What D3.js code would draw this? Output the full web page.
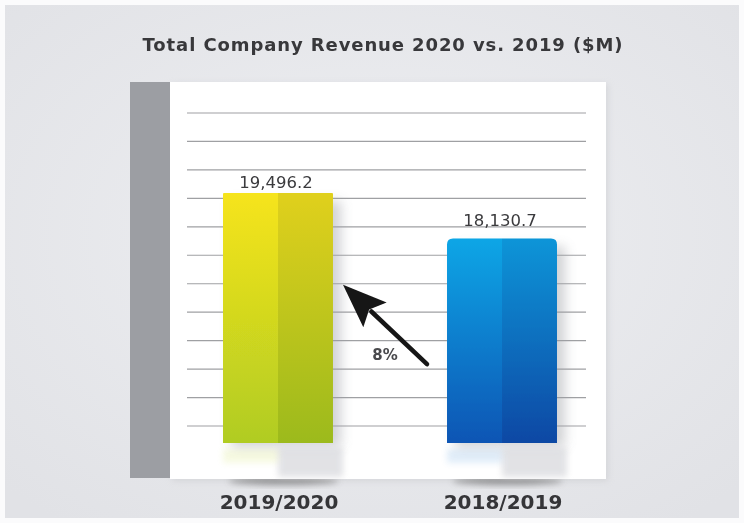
<!DOCTYPE html>
<html>
<head>
<meta charset="utf-8">
<script src="https://cdn.jsdelivr.net/npm/d3@7/dist/d3.min.js"></script>
<style>
  html, body { margin: 0; padding: 0; background: #ffffff; }
  svg { display: block; }
</style>
</head>
<body>
<svg id="chart" width="744" height="523"></svg>
<script>
// Revenue by fiscal year, $M
const categories = ["2019/2020", "2018/2019"];
const revenue = [19496.2, 18130.7];
const valueLabels = ["19,496.2", "18,130.7"];
const changeLabel = "8%";
const titleText = "Total Company Revenue 2020 vs. 2019 ($M)";
const gridLineCount = 12;

const svg = d3.select("#chart");
const W = 744, H = 523;
const defs = svg.append("defs");

// background
const bg = defs.append("radialGradient").attr("id", "bg").attr("cx", "50%").attr("cy", "45%").attr("r", "70%");
bg.append("stop").attr("offset", "0%").attr("stop-color", "#eeeff2");
bg.append("stop").attr("offset", "100%").attr("stop-color", "#e1e2e6");
svg.append("rect").attr("width", W).attr("height", H).attr("fill", "#fbfbfc");
svg.append("rect").attr("x", 5).attr("y", 5).attr("width", W - 10).attr("height", H - 10).attr("fill", "url(#bg)");

// filters
const blur = (id, sd) => defs.append("filter").attr("id", id)
  .attr("x", "-50%").attr("y", "-50%").attr("width", "200%").attr("height", "200%")
  .append("feGaussianBlur").attr("stdDeviation", sd);
blur("soft", 3);
blur("softer", 6);
blur("tiny", 0.6);

// bar gradients
function vGrad(id, c0, c1) {
  const g = defs.append("linearGradient").attr("id", id).attr("x1", 0).attr("y1", 0).attr("x2", 0).attr("y2", 1);
  g.append("stop").attr("offset", "0%").attr("stop-color", c0);
  g.append("stop").attr("offset", "100%").attr("stop-color", c1);
}
vGrad("yL", "#f6e41c", "#b0cc22");
vGrad("yR", "#e0d01e", "#9cba1e");
vGrad("bL", "#0aa6e6", "#0a55b4");
vGrad("bR", "#0895d8", "#0848a4");
const fillsL = ["url(#yL)", "url(#bL)"];
const fillsR = ["url(#yR)", "url(#bR)"];
const reflect = ["#c8dc3c", "#3a8ad8"];

// layout
const panel = { x0: 170, x1: 606, y0: 82, y1: 479 };
const base = 443;
const labelGap = [5, 13];

const x = d3.scaleBand().domain(categories).range([167, 613]).paddingInner(0.509).paddingOuter(0.25);
const y = d3.scaleLinear().domain([12000, 20000]).range([base, base - 8000 * 250 / 7496.2]);
const gridY = d3.scaleLinear().domain([0, gridLineCount - 1]).range([113, 426]);

// panel drop shadow and the curled shadows at its bottom edge
svg.append("rect").attr("x", panel.x0 + 2).attr("y", panel.y0 + 2).attr("width", panel.x1 - panel.x0).attr("height", panel.y1 - panel.y0)
  .attr("fill", "#c9cace").attr("filter", "url(#soft)").attr("opacity", 0.6);
categories.forEach((c, i) => {
  svg.append("ellipse").attr("cx", x(c) + x.bandwidth() * 0.55).attr("cy", panel.y1 + 2)
    .attr("rx", x.bandwidth() * 0.5).attr("ry", 4).attr("fill", "#555").attr("opacity", 0.55).attr("filter", "url(#soft)");
});

// white panel
svg.append("rect").attr("x", panel.x0).attr("y", panel.y0).attr("width", panel.x1 - panel.x0).attr("height", panel.y1 - panel.y0).attr("fill", "#ffffff");

// grey side bar
svg.append("rect").attr("x", 130).attr("y", panel.y0).attr("width", 40).attr("height", panel.y1 - panel.y0 - 1).attr("fill", "#9c9ea3");

// grid lines
svg.append("g").selectAll("line").data(d3.range(gridLineCount)).join("line")
  .attr("x1", 187).attr("x2", 586)
  .attr("y1", d => gridY(d)).attr("y2", d => gridY(d))
  .attr("stroke", "#8f9093").attr("stroke-width", 1.2).attr("opacity", 0.85);

// bar shadows and reflections
categories.forEach((c, i) => {
  const bx = x(c), bw = x.bandwidth();
  svg.append("rect").attr("x", bx + 8).attr("y", y(revenue[i]) + 8).attr("width", bw).attr("height", base - y(revenue[i]) - 4)
    .attr("fill", "#9a9ca2").attr("opacity", 0.45).attr("filter", "url(#softer)");
  svg.append("rect").attr("x", bx + bw / 2).attr("y", base + 4).attr("width", bw / 2 + 10).attr("height", panel.y1 - base - 6)
    .attr("fill", "#d6d7db").attr("opacity", 0.7).attr("filter", "url(#soft)");
  svg.append("rect").attr("x", bx).attr("y", base + 6).attr("width", bw / 2).attr("height", 14)
    .attr("fill", reflect[i]).attr("opacity", 0.15).attr("filter", "url(#soft)");
});

// bars: two-tone folded faces
const bars = svg.append("g");
categories.forEach((c, i) => {
  const bx = x(c), bw = x.bandwidth(), top = y(revenue[i]);
  const g = bars.append("g").attr("filter", "url(#tiny)");
  const r = i === 1 ? 6 : 1;
  g.append("path")
    .attr("d", `M${bx},${base} V${top + r} Q${bx},${top} ${bx + r},${top} H${bx + bw / 2} V${base} Z`)
    .attr("fill", fillsL[i]);
  g.append("path")
    .attr("d", `M${bx + bw / 2},${base} V${top} H${bx + bw - r} Q${bx + bw},${top} ${bx + bw},${top + r} V${base} Z`)
    .attr("fill", fillsR[i]);
  // value label
  svg.append("text").attr("x", bx + bw / 2 - 2).attr("y", top - labelGap[i])
    .attr("text-anchor", "middle").attr("font-family", "DejaVu Sans, sans-serif")
    .attr("font-size", 16.5).attr("fill", "#3a3a3d").attr("filter", "url(#tiny)")
    .text(valueLabels[i]);
  // category label
  svg.append("text").attr("x", bx + bw / 2 + 1).attr("y", 509)
    .attr("text-anchor", "middle").attr("font-family", "DejaVu Sans, sans-serif").attr("font-weight", "bold")
    .attr("font-size", 20).attr("fill", "#353538").attr("filter", "url(#tiny)")
    .text(c);
});

// growth arrow from the older bar to the newer one
const tip = [x(categories[0]) + x.bandwidth() + 10, gridY(6) + 1];
const tail = [x(categories[1]) - 20, gridY(9) - 5];
const ang = Math.atan2(tail[1] - tip[1], tail[0] - tip[0]);
const headLen = 44, headW = 17;
const hx = tip[0] + Math.cos(ang) * headLen, hy = tip[1] + Math.sin(ang) * headLen;
const nx = -Math.sin(ang), ny = Math.cos(ang);
const arrow = svg.append("g").attr("filter", "url(#tiny)");
arrow.append("line").attr("x1", hx - Math.cos(ang) * 5).attr("y1", hy - Math.sin(ang) * 5)
  .attr("x2", tail[0]).attr("y2", tail[1]).attr("stroke", "#151515").attr("stroke-width", 4.5).attr("stroke-linecap", "round");
arrow.append("path")
  .attr("d", `M${tip[0]},${tip[1]} L${hx + nx * headW},${hy + ny * headW} L${hx - Math.cos(ang) * 8},${hy - Math.sin(ang) * 8} L${hx - nx * headW},${hy - ny * headW} Z`)
  .attr("fill", "#151515");
svg.append("text").attr("x", 385).attr("y", 360).attr("text-anchor", "middle")
  .attr("font-family", "DejaVu Sans, sans-serif").attr("font-weight", "bold").attr("font-size", 15)
  .attr("fill", "#4a4a4d").attr("filter", "url(#tiny)").text(changeLabel);

// title
svg.append("text").attr("x", 383).attr("y", 51).attr("text-anchor", "middle")
  .attr("font-family", "DejaVu Sans, sans-serif").attr("font-weight", "bold").attr("font-size", 18)
  .attr("letter-spacing", 0.9)
  .attr("fill", "#38383b").attr("filter", "url(#tiny)").text(titleText);
</script>
</body>
</html>
